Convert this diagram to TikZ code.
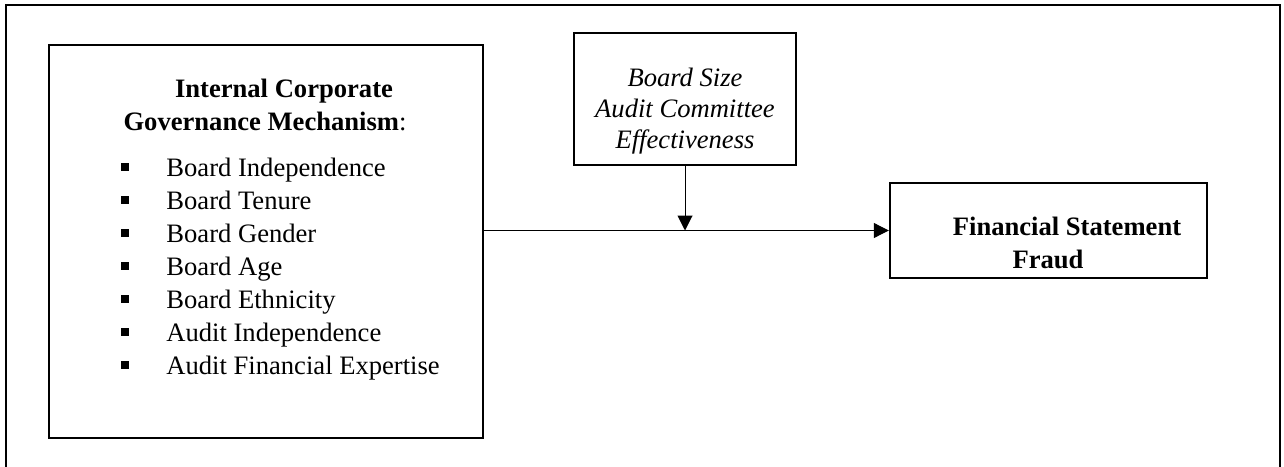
\documentclass[tikz,border=0pt]{standalone}
\usepackage{fontspec}
\setmainfont{Liberation Serif}
\usetikzlibrary{arrows.meta}

\begin{document}
\begin{tikzpicture}[x=0.5pt,y=-0.5pt,
    box/.style={draw,line width=1.2pt,inner sep=0pt},
    arr/.style={line width=0.5pt,-{Triangle[length=7.5pt,width=7.5pt]}},
    txt/.style={font=\fontsize{13.3}{16.5}\selectfont,align=center,inner sep=0pt}]
            \useasboundingbox (0,0) rectangle (1284,466);
            \clip (0,0) rectangle (1284,466);
            \draw [line width=0.9pt] (6,5) rectangle (1280,480);
            \node [box,minimum width=217pt,minimum height=196.5pt] (icgm) at (266,241.5) {};
            \node [box,minimum width=111pt,minimum height=66pt] (mod) at (685,99) {};
            \node [box,minimum width=158.5pt,minimum height=47.5pt] (fsf) at (1048.5,230.5) {};
            \node [txt] (icgmtitle) at (265,105) {\hspace*{19pt}\textbf{Internal Corporate}\\ \textbf{Governance Mechanism}:};
            \node [txt,align=left,anchor=north west] (icgmlist) at (121,158) {%
              \makebox[22.5pt][l]{\rule[3.1pt]{3.8pt}{3.8pt}}Board Independence\\
              \makebox[22.5pt][l]{\rule[3.1pt]{3.8pt}{3.8pt}}Board Tenure\\
              \makebox[22.5pt][l]{\rule[3.1pt]{3.8pt}{3.8pt}}Board Gender\\
              \makebox[22.5pt][l]{\rule[3.1pt]{3.8pt}{3.8pt}}Board Age\\
              \makebox[22.5pt][l]{\rule[3.1pt]{3.8pt}{3.8pt}}Board Ethnicity\\
              \makebox[22.5pt][l]{\rule[3.1pt]{3.8pt}{3.8pt}}Audit Independence\\
              \makebox[22.5pt][l]{\rule[3.1pt]{3.8pt}{3.8pt}}Audit Financial Expertise};
            \node [txt,font=\fontsize{13.3}{15.5}\selectfont\itshape] (modtext) at (685,111) {Board Size\\Audit Committee\\Effectiveness};
            \node [txt,font=\fontsize{13.3}{16.5}\selectfont\bfseries] (fsftext) at (1048,243) {\hspace*{19pt}Financial Statement\\Fraud};
            \coordinate (join) at (mod.south |- fsf.west);
            \draw [arr] (icgm.east |- fsf.west) -- (fsf.west);
            \draw [arr] (mod.south) -- (join);
\end{tikzpicture}
\end{document}
